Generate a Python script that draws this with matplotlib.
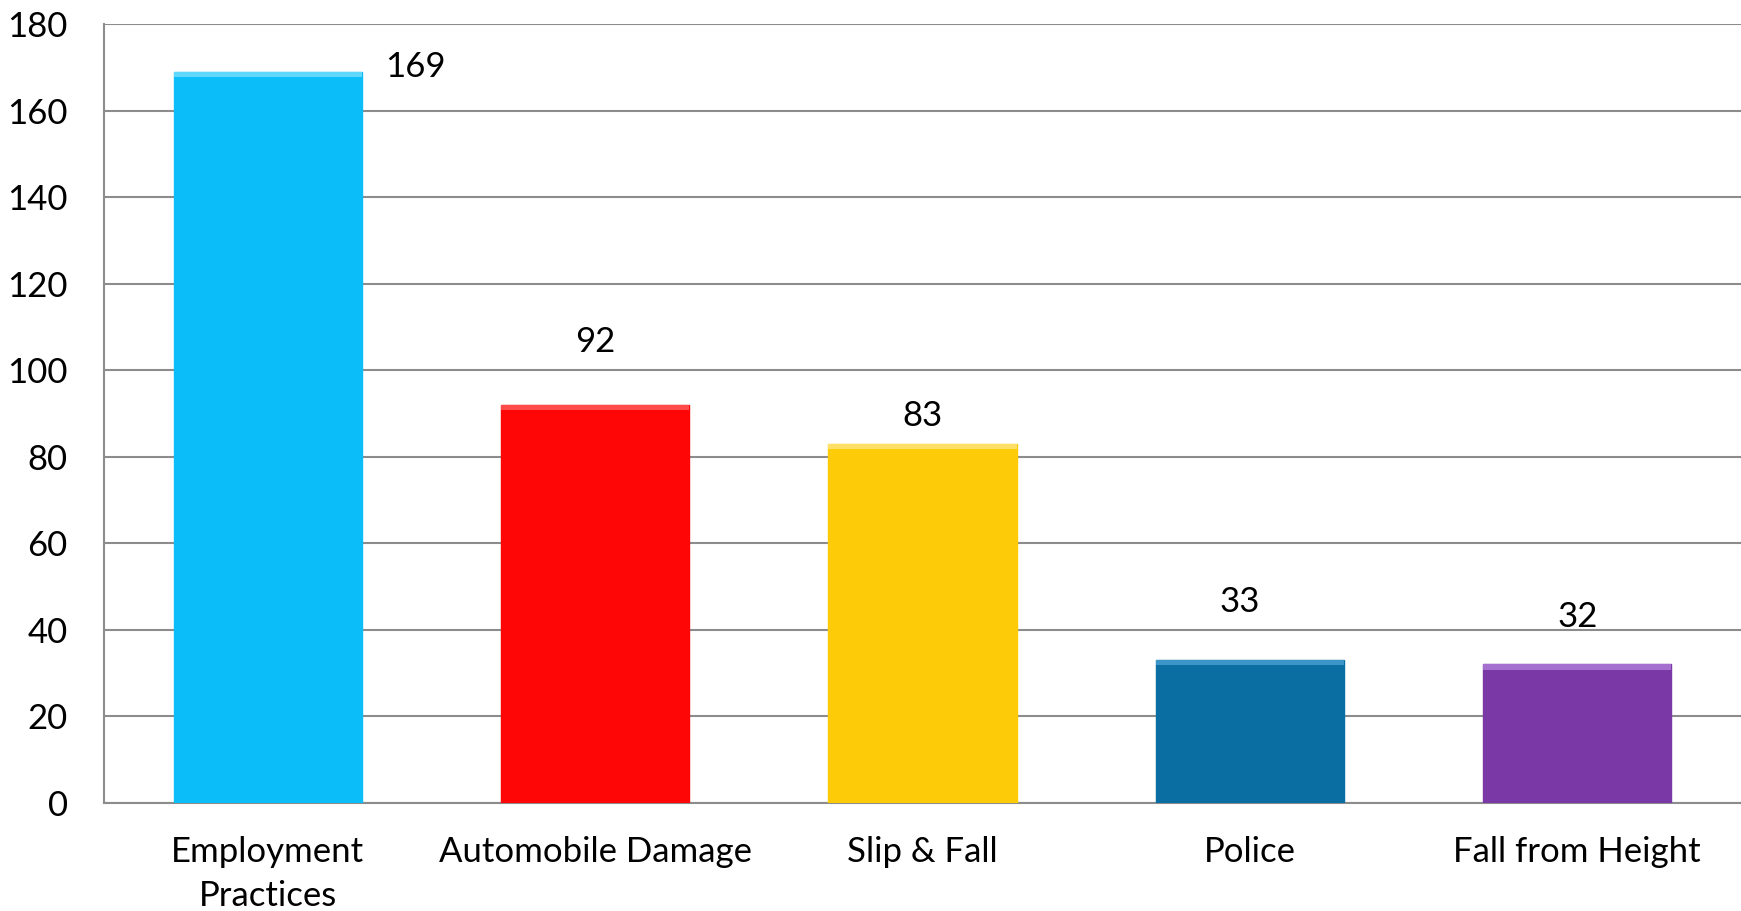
import matplotlib.pyplot as plt
from matplotlib import rcParams

rcParams['font.family'] = ['Lato', 'DejaVu Sans']

categories = ['Employment\nPractices', 'Automobile Damage', 'Slip & Fall', 'Police', 'Fall from Height']
values = [169, 92, 83, 33, 32]
colors = ['#0bbdf9', '#fe0606', '#fdcb08', '#0a6ea3', '#7a37a6']
tops = ['#5fd8fc', '#ff4a4a', '#ffe066', '#3c95c6', '#a56fd0']
# label offsets (x in category units, y in data units) as placed in the original
label_dx = [0.45, 0.0, 0.0, -0.03, 0.0]
label_dy = [1, 14.5, 6.5, 13.5, 11]
y_ticks = [0, 20, 40, 60, 80, 100, 120, 140, 160, 180]

fig = plt.figure(figsize=(17.41, 9.11), dpi=100)
ax = fig.add_axes([0.0597, 0.1186, 0.9403, 0.8551])

x = range(len(values))
ax.bar(x, values, width=0.575, color=colors, edgecolor=colors, linewidth=1, zorder=3)
# thin lighter strip along the top, bevel look
ax.bar(x, [1.2] * len(values), bottom=[v - 1.2 for v in values], width=0.575, color=tops, linewidth=0, zorder=4)

for i, v in enumerate(values):
    ax.text(i + label_dx[i], v + label_dy[i], str(v), ha='center', va='center', fontsize=25, color='black')

ax.set_xlim(-0.5, len(values) - 0.5)
ax.set_ylim(0, 180)
ax.set_yticks(y_ticks)
ax.tick_params(axis='y', labelsize=25, length=0, pad=26)
ax.tick_params(axis='x', labelsize=25, length=0, pad=24)
ax.set_xticks(list(x))
ax.set_xticklabels(categories, linespacing=1.45, va='top')

ax.grid(axis='y', color='#8c8c8c', linewidth=1.5, zorder=0)
ax.set_axisbelow(True)
for s in ['top', 'right']:
    ax.spines[s].set_visible(False)
for s in ['left', 'bottom']:
    ax.spines[s].set_color('#8c8c8c')
    ax.spines[s].set_linewidth(1.5)

fig.savefig('out.png', dpi=100)
